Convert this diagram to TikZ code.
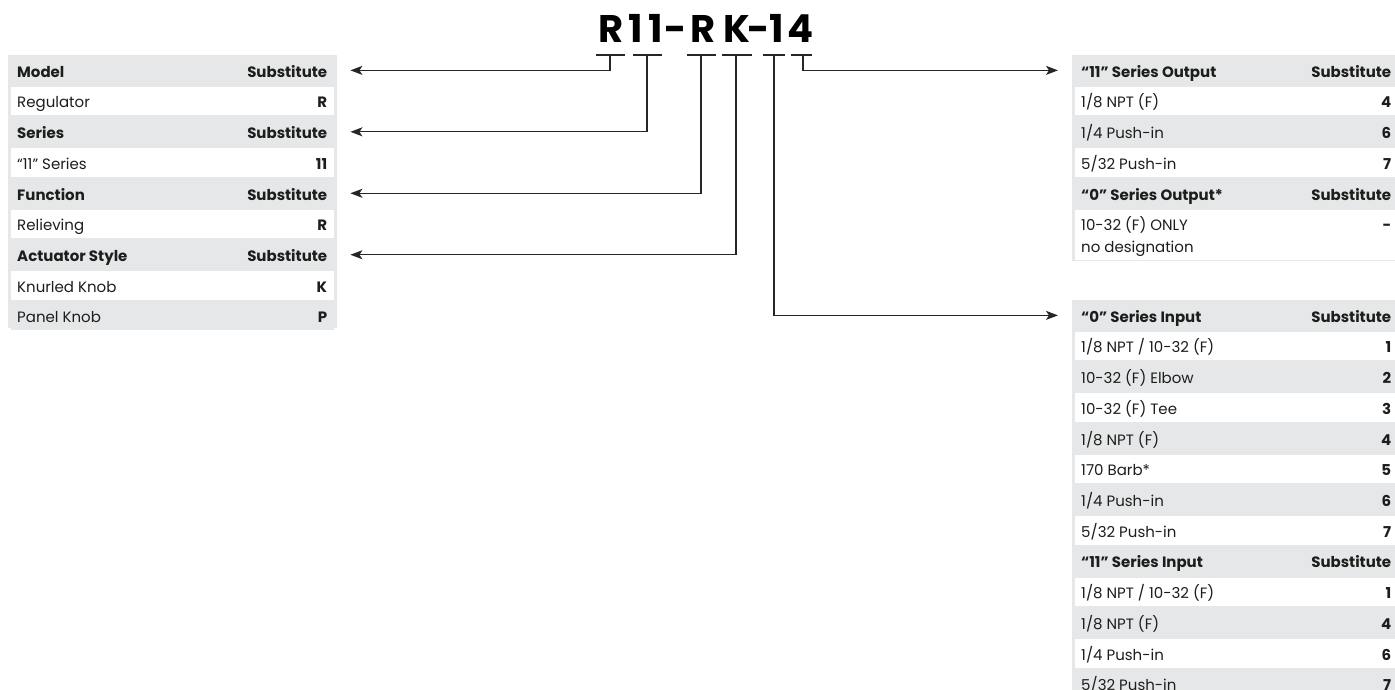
\documentclass[tikz,border=0pt]{standalone}
\usepackage{fontspec}
\setmainfont{Poppins}
\usetikzlibrary{positioning,arrows.meta}
\definecolor{tblgray}{HTML}{E6E7E9}
\definecolor{ink}{HTML}{1D1D1B}
\definecolor{linkgray}{HTML}{262626}
\newcommand{\rowfont}{\fontsize{15}{18}\selectfont}
\tikzset{
  tblbg/.style={fill=tblgray, inner sep=0pt, minimum width=329pt, anchor=north west},
  rowbox/.style={inner sep=0pt, minimum width=323pt, minimum height=28.33pt},
  grayrow/.style={rowbox, fill=tblgray},
  whiterow/.style={rowbox, fill=white},
  lbl/.style={anchor=west, inner xsep=6pt, inner ysep=0pt, text height=13.5pt, text depth=0pt, font=\rowfont, text=ink},
  hlbl/.style={lbl, font=\rowfont\bfseries},
  val/.style={anchor=east, inner xsep=7pt, inner ysep=0pt, text height=13.5pt, text depth=0pt, font=\rowfont\bfseries, text=ink},
  link/.style={draw=linkgray, line width=1.3pt},
  pointer/.style={link, -{Stealth[length=12pt, width=9pt, inset=3pt]}},
}
\newcommand{\headrow}[4]{% name, placement, fill style, title
  \node[#3, #2] (#1) {};
  \node[hlbl] at (#1.west) {#4};
  \node[val] at (#1.east) {Substitute};}
\newcommand{\datarow}[5]{% name, placement, fill style, text, code
  \node[#3, #2] (#1) {};
  \node[lbl] at (#1.west) {#4};
  \node[val] at (#1.east) {#5};}
\begin{document}
\begin{tikzpicture}[x=1pt, y=-1pt]
\useasboundingbox (0,0) rectangle (1395,690);

% part number
\foreach \ch/\cx [count=\i] in {R/611, 1/636, 1/655.5, -/676, R/703.5, K/736.5, -/759, 1/776.5, 4/801}
  \node[anchor=base, inner sep=0pt, font=\fontsize{38.5}{40}\selectfont\bfseries, text=black] (ch\i) at (\cx,43) {\ch};

% brackets under the code
\foreach \nm/\a/\m/\b in {Mdl/596/610/625, Ser/633/647/662, Fun/687/701/716, Act/722/736/752, In/763/774/785, Out/791/803/812} {
  \coordinate (tap\nm) at (\m,55);
  \draw[link] (\a,55) -- (\b,55);
}

% left table
\node[tblbg, minimum height=273pt] (leftTbl) at (8,55) {};
\headrow{mdl}{anchor=north west, at={(11,56)}}{grayrow}{Model}
\datarow{reg}{below=2pt of mdl}{whiterow}{Regulator}{R}
\headrow{ser}{below=2pt of reg}{grayrow}{Series}
\datarow{ser11}{below=2pt of ser}{whiterow}{“11” Series}{11}
\headrow{fun}{below=2pt of ser11}{grayrow}{Function}
\datarow{rel}{below=2pt of fun}{whiterow}{Relieving}{R}
\headrow{act}{below=2pt of rel}{grayrow}{Actuator Style}
\datarow{knurl}{below=2pt of act}{whiterow}{Knurled Knob}{K}
\datarow{panel}{below=2pt of knurl}{grayrow}{Panel Knob}{P}

% output table
\node[tblbg, minimum height=205.67pt] (outTbl) at (1072,55) {};
\headrow{outH}{anchor=north west, at={(1075,56)}}{grayrow}{“11” Series Output}
\datarow{outA}{below=2pt of outH}{whiterow}{1/8 NPT (F)}{4}
\datarow{outB}{below=2pt of outA}{grayrow}{1/4 Push-in}{6}
\datarow{outC}{below=2pt of outB}{whiterow}{5/32 Push-in}{7}
\headrow{zeroH}{below=2pt of outC}{grayrow}{“0” Series Output*}
\node[whiterow, minimum height=50pt, below=2pt of zeroH] (only) {};
\node[lbl, anchor=base west] (onlyA) at ([yshift=-21pt]only.north west) {10-32 (F) ONLY};
\node[lbl, anchor=base west] at ([yshift=-22pt]onlyA.base west) {no designation};
\node[val, anchor=base east] at ([yshift=-21pt]only.north east) {-};

% input table
\node[tblbg, minimum height=394.33pt] (inTbl) at (1072,300) {};
\headrow{inH}{anchor=north west, at={(1075,301)}}{grayrow}{“0” Series Input}
\datarow{in1}{below=2pt of inH}{whiterow}{1/8 NPT / 10-32 (F)}{1}
\datarow{in2}{below=2pt of in1}{grayrow}{10-32 (F) Elbow}{2}
\datarow{in3}{below=2pt of in2}{whiterow}{10-32 (F) Tee}{3}
\datarow{in4}{below=2pt of in3}{grayrow}{1/8 NPT (F)}{4}
\datarow{in5}{below=2pt of in4}{whiterow}{170 Barb*}{5}
\datarow{in6}{below=2pt of in5}{grayrow}{1/4 Push-in}{6}
\datarow{in7}{below=2pt of in6}{whiterow}{5/32 Push-in}{7}
\headrow{elevH}{below=2pt of in7}{grayrow}{“11” Series Input}
\datarow{el1}{below=2pt of elevH}{whiterow}{1/8 NPT / 10-32 (F)}{1}
\datarow{el4}{below=2pt of el1}{grayrow}{1/8 NPT (F)}{4}
\datarow{el6}{below=2pt of el4}{whiterow}{1/4 Push-in}{6}
\datarow{el7}{below=2pt of el6}{grayrow}{5/32 Push-in}{7}

% pointers
\draw[pointer] (tapMdl) |- ([xshift=16pt]mdl.east);
\draw[pointer] (tapSer) |- ([xshift=16pt]ser.east);
\draw[pointer] (tapFun) |- ([xshift=16pt]fun.east);
\draw[pointer] (tapAct) |- ([xshift=16pt]act.east);
\draw[pointer] (tapIn) |- ([xshift=-17pt]inH.west);
\draw[pointer] (tapOut) |- ([xshift=-17pt]outH.west);
\end{tikzpicture}
\end{document}
